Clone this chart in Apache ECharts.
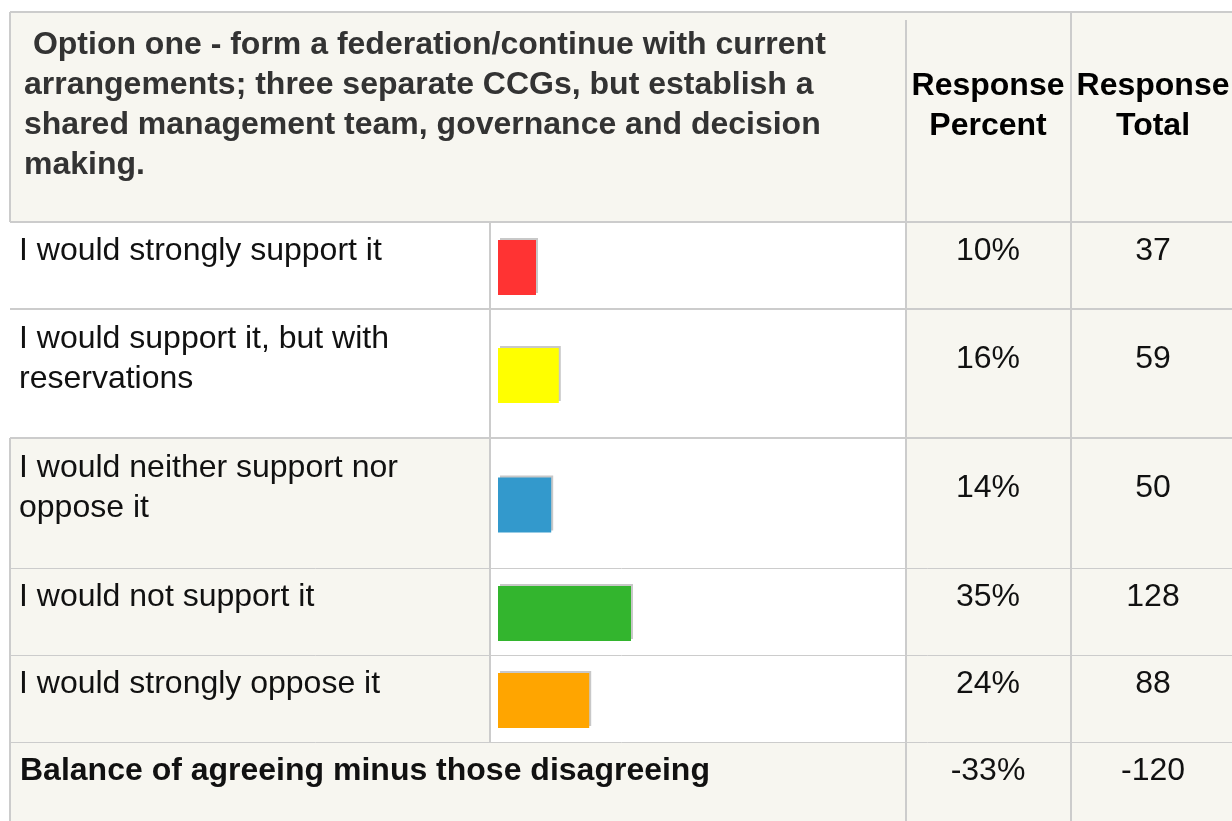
<!DOCTYPE html>
<html>
<head>
<meta charset="utf-8">
<script src="https://cdn.jsdelivr.net/npm/echarts@6/dist/echarts.min.js"></script>
<style>
html,body{margin:0;padding:0;background:#fff;}
#chart{width:1232px;height:821px;}
</style>
</head>
<body>
<div id="chart"></div>
<script>
// ---- data ----
const categories = [
  'I would strongly support it',
  'I would support it, but with reservations',
  'I would neither support nor oppose it',
  'I would not support it',
  'I would strongly oppose it'
];
const percents = [10, 16, 14, 35, 24];
const totals = [37, 59, 50, 128, 88];
const barColors = ['#ff3333', '#ffff00', '#3399cc', '#33b52e', '#ffa500'];
const balanceLabel = 'Balance of agreeing minus those disagreeing';
const balancePercent = -33;
const balanceTotal = -120;
const headerTitleLines = [
  ' Option one - form a federation/continue with current',
  'arrangements; three separate CCGs, but establish a',
  'shared management team, governance and decision',
  'making.'
];
const headerPercent = ['Response', 'Percent'];
const headerTotal = ['Response', 'Total'];

// ---- layout ----
const FONT = '"Liberation Sans", Arial, Helvetica, sans-serif';
const CREAM = '#f7f6f0';
const LINE = '#cccccc';
const rowTops = [222, 309, 438, 568, 655, 742];
const rowBottoms = [309, 438, 568, 655, 742, 829];
const colLeft = 10, colBar = 490, colPct = 906, colTot = 1071, tableRight = 1250;
const gridLeft = 498, gridWidth = 380, barH = 55;
const pctCenter = 988, totCenter = 1153;
const labelShift = 16.5;

const grids = [], xAxes = [], yAxes = [], series = [];
const rowLabels = categories.concat([balanceLabel]);
const rowPcts = percents.concat([balancePercent]);
const rowTots = totals.concat([balanceTotal]);

const hidden = {axisLine: {show: false}, axisTick: {show: false}, splitLine: {show: false}};
function labelStyle(extra) {
  return Object.assign({fontSize: 32, lineHeight: 40, fontFamily: FONT, color: '#111', verticalAlign: 'middle'}, extra);
}

rowLabels.forEach((lab, i) => {
  const h = rowBottoms[i] - rowTops[i];
  const barTop = rowTops[i] + (h - barH) / 2 + 2;
  const isBal = i === rowLabels.length - 1;
  // bar grid
  if (!isBal) {
    const gi = grids.length;
    grids.push({left: gridLeft, top: barTop, width: gridWidth, height: barH, containLabel: false, outerBoundsMode: 'none'});
    xAxes.push({type: 'value', gridIndex: gi, min: 0, max: 100, show: false});
    const yi = yAxes.length;
    yAxes.push(Object.assign({type: 'category', gridIndex: gi, data: [lab], show: false}, hidden));
    series.push({
      type: 'bar', xAxisIndex: xAxes.length - 1, yAxisIndex: yi,
      data: [percents[i]], barWidth: barH, silent: true,
      itemStyle: {
        color: barColors[i], shadowColor: '#c8c8c8', shadowBlur: 0,
        shadowOffsetX: 2, shadowOffsetY: -2
      }
    });
  }
  // text grid (row label, percent, total), centred a little above the bar
  const ti = grids.length;
  grids.push({left: gridLeft, top: barTop - labelShift, width: gridWidth, height: barH, containLabel: false, outerBoundsMode: 'none'});
  xAxes.push({type: 'value', gridIndex: ti, min: 0, max: 100, show: false});
  yAxes.push(Object.assign({type: 'category', gridIndex: ti, position: 'left', data: [lab],
    axisLabel: labelStyle({align: 'left', margin: gridLeft - (isBal ? 20 : 19),
      width: isBal ? 870 : 464, overflow: 'break', fontWeight: isBal ? 'bold' : 'normal'})}, hidden));
  yAxes.push(Object.assign({type: 'category', gridIndex: ti, position: 'right', data: [rowPcts[i] + '%'],
    axisLabel: labelStyle({align: 'center', margin: pctCenter - (gridLeft + gridWidth)})}, hidden));
  yAxes.push(Object.assign({type: 'category', gridIndex: ti, position: 'right', data: [String(rowTots[i])],
    axisLabel: labelStyle({align: 'center', margin: totCenter - (gridLeft + gridWidth)})}, hidden));
});

// table graphics
const g = [];
g.push({type: 'rect', z: -10, shape: {x: colLeft, y: 12, width: tableRight - colLeft, height: 830}, style: {fill: CREAM}});
g.push({type: 'rect', z: -9, shape: {x: colBar, y: rowTops[0], width: colPct - colBar, height: rowTops[5] - rowTops[0]}, style: {fill: '#fff'}});
g.push({type: 'rect', z: -9, shape: {x: colLeft, y: rowTops[0], width: colBar - colLeft, height: rowTops[2] - rowTops[0]}, style: {fill: '#fff'}});
function line(x1, y1, x2, y2, w) {
  g.push({type: 'line', z: -8, shape: {x1, y1, x2, y2}, style: {stroke: LINE, lineWidth: w}});
}
line(colLeft, 12, tableRight, 12, 2);
line(colLeft, 12, colLeft, rowTops[0], 2);
line(colLeft, rowTops[2], colLeft, 830, 2);
line(colBar, rowTops[0], colBar, rowTops[5], 2);
line(colPct, 20, colPct, 830, 2);
line(colTot, 12, colTot, 830, 2);
[0, 1, 2].forEach(k => line(colLeft, rowTops[k], tableRight, rowTops[k], 2));
[3, 4, 5].forEach(k => line(colLeft, rowTops[k] + 0.5, tableRight, rowTops[k] + 0.5, 1));

g.push({type: 'text', z: 10, x: 24, y: 25.5, style: {
  text: headerTitleLines.join('\n'), fontSize: 32, fontWeight: 'bold',
  fontFamily: FONT, fill: '#333', lineHeight: 40, align: 'left', verticalAlign: 'top'}});
g.push({type: 'text', z: 10, x: pctCenter, y: 66, style: {
  text: headerPercent.join('\n'), fontSize: 32, fontWeight: 'bold', fontFamily: FONT, fill: '#000',
  lineHeight: 40, align: 'center', verticalAlign: 'top'}});
g.push({type: 'text', z: 10, x: totCenter, y: 66, style: {
  text: headerTotal.join('\n'), fontSize: 32, fontWeight: 'bold', fontFamily: FONT, fill: '#000',
  lineHeight: 40, align: 'center', verticalAlign: 'top'}});

const chart = echarts.init(document.getElementById('chart'));
chart.setOption({
  backgroundColor: '#fff',
  animation: false,
  grid: grids, xAxis: xAxes, yAxis: yAxes, series: series,
  graphic: {elements: g}
});
</script>
</body>
</html>
